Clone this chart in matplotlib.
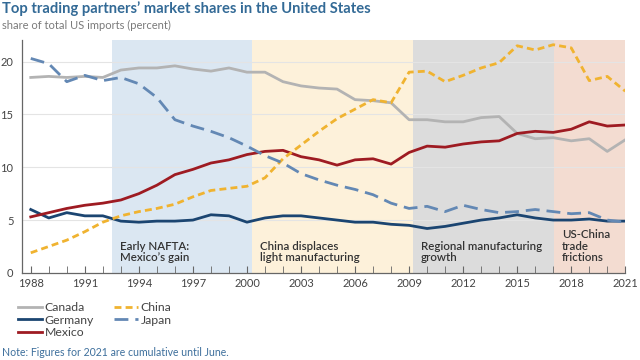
import matplotlib
matplotlib.use("Agg")
import matplotlib.pyplot as plt

plt.rcParams['font.family'] = ['Lato', 'DejaVu Sans']

years = list(range(1988, 2022))

canada = [18.5, 18.6, 18.5, 18.6, 18.5, 19.2, 19.4, 19.4, 19.6, 19.3, 19.1, 19.4, 19.0,
          19.0, 18.1, 17.7, 17.5, 17.4, 16.4, 16.3, 16.1, 14.5, 14.5, 14.3, 14.3, 14.7,
          14.8, 13.2, 12.7, 12.8, 12.5, 12.7, 11.5, 12.6]
china = [1.9, 2.5, 3.1, 3.9, 4.8, 5.4, 5.8, 6.1, 6.5, 7.2, 7.8, 8.0, 8.2,
         9.0, 10.8, 12.1, 13.4, 14.6, 15.5, 16.4, 16.1, 19.0, 19.1, 18.1, 18.7, 19.4,
         19.9, 21.5, 21.1, 21.6, 21.3, 18.2, 18.6, 17.2]
germany = [6.0, 5.2, 5.7, 5.4, 5.4, 4.9, 4.8, 4.9, 4.9, 5.0, 5.5, 5.4, 4.8,
           5.2, 5.4, 5.4, 5.2, 5.0, 4.8, 4.8, 4.6, 4.5, 4.2, 4.4, 4.7, 5.0,
           5.2, 5.5, 5.2, 5.0, 5.0, 5.1, 4.9, 4.9]
japan = [20.3, 19.8, 18.1, 18.7, 18.2, 18.5, 17.9, 16.6, 14.5, 13.9, 13.4, 12.8, 12.0,
         11.1, 10.4, 9.4, 8.8, 8.3, 7.9, 7.4, 6.6, 6.1, 6.3, 5.8, 6.4, 6.0,
         5.7, 5.8, 6.0, 5.8, 5.6, 5.7, 5.0, 4.8]
mexico = [5.3, 5.7, 6.1, 6.4, 6.6, 6.9, 7.5, 8.3, 9.3, 9.8, 10.4, 10.7, 11.2,
          11.5, 11.6, 11.0, 10.7, 10.2, 10.7, 10.8, 10.3, 11.4, 12.0, 11.9, 12.2, 12.4,
          12.5, 13.2, 13.4, 13.3, 13.6, 14.3, 13.9, 14.0]

periods = [(1992.5, 2000.3, '#dbe7f2', 'Early NAFTA:\nMexico\u2019s gain'),
           (2000.3, 2009.2, '#fdf1da', 'China displaces\nlight manufacturing'),
           (2009.2, 2017.05, '#dcdcdc', 'Regional manufacturing\ngrowth'),
           (2017.05, 2021.0, '#f3dcd1', 'US-China\ntrade\nfrictions')]

fig = plt.figure(figsize=(6.4, 3.6), dpi=100)
ax = fig.add_axes([0.034, 0.242, 0.943, 0.647])

for x0, x1, col, label in periods:
    ax.axvspan(x0, x1, color=col, lw=0, zorder=0)
    ax.text(x0 + 0.45, 0.9, label, fontsize=8.3, color='#333333', fontweight='semibold',
            va='bottom', ha='left', linespacing=1.05, zorder=3)

for v in [5, 10, 15, 20]:
    ax.axhline(v, color='#e4e4e4', lw=0.8, zorder=1)

ax.plot(years, canada, color='#b3b3b3', lw=2, label='Canada', zorder=4)
ax.plot(years, germany, color='#1b4571', lw=2, label='Germany', zorder=4)
ax.plot(years, mexico, color='#9e1b22', lw=2, label='Mexico', zorder=4)
ax.plot(years, china, color='#f0b330', lw=2, ls=(0, (2.5, 1.5)), label='China', zorder=4)
ax.plot(years, japan, color='#6388b4', lw=2, ls=(0, (5, 2.5)), label='Japan', zorder=4)

ax.set_xlim(1987.5, 2021)
ax.set_ylim(0, 22.05)
ax.set_xticks(range(1988, 2022, 3))
ax.set_xticks(years, minor=True)
ax.set_yticks([0, 5, 10, 15, 20])
ax.tick_params(axis='x', which='both', direction='in', length=5, color='#666666',
               labelsize=8, labelcolor='#444444', pad=4)
ax.tick_params(axis='y', length=0, labelsize=8, labelcolor='#444444', pad=6)
for s in ['top', 'right']:
    ax.spines[s].set_visible(False)
for s in ['left', 'bottom']:
    ax.spines[s].set_color('#666666')
    ax.spines[s].set_linewidth(0.9)

fig.text(0.003, 0.975, 'Top trading partners\u2019 market shares in the United States',
         fontsize=10.6, fontweight='bold', color='#336a96', va='center', ha='left')
fig.text(0.003, 0.93, 'share of total US imports (percent)', fontsize=8,
         color='#7a7a7a', va='center', ha='left')

handles, labels = ax.get_legend_handles_labels()
leg = fig.legend(handles, labels, loc='upper left', bbox_to_anchor=(0.028, 0.16),
                 ncol=2, frameon=False, fontsize=8.8, handlelength=2.0, handletextpad=0.2,
                 columnspacing=1.6, labelspacing=0.1, borderaxespad=0, borderpad=0)
for t in leg.get_texts():
    t.set_color('#444444')

fig.text(0.003, 0.022, 'Note: Figures for 2021 are cumulative until June.', fontsize=7.6,
         color='#3d6f9c', va='center', ha='left')

fig.savefig('out.png', dpi=100)
